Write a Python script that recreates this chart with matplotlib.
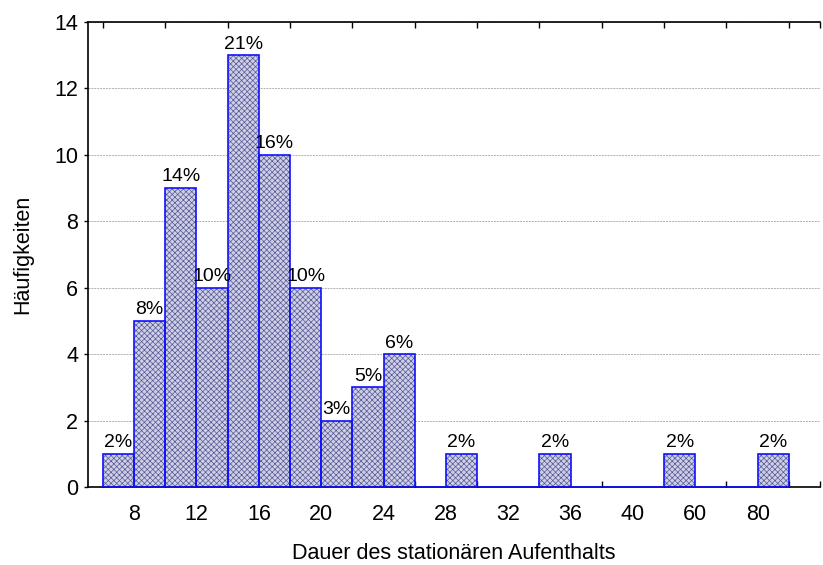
import matplotlib
matplotlib.use("Agg")
import matplotlib.pyplot as plt
import numpy as np

counts = [1, 5, 9, 6, 13, 10, 6, 2, 3, 4, 0, 1, 0, 0, 1, 0, 0, 0, 1, 0, 0, 1]
tick_labels = ["8", "12", "16", "20", "24", "28", "32", "36", "40", "60", "80"]
xlabel = "Dauer des stationären Aufenthalts"
ylabel = "Häufigkeiten"

plt.rcParams['font.family'] = ['Liberation Sans', 'DejaVu Sans']
plt.rcParams['hatch.linewidth'] = 0.5

fig = plt.figure(figsize=(8.23, 5.65), dpi=100)
ax = fig.add_axes([88/823, 1-487/565, (820-88)/823, (487-22)/565])

x = np.arange(len(counts))
total = sum(counts)
ax.set_axisbelow(True)
ax.yaxis.grid(True, linestyle=(0, (2, 1)), color='#b0b0b0', linewidth=0.7)
ax.bar(x, counts, width=1.0, facecolor='#cfd0e6', edgecolor='#545894', hatch='xxxxxx', linewidth=0, zorder=2)
ax.bar(x, counts, width=1.0, fill=False, edgecolor='#1010ff', linewidth=1.2, zorder=3)

for xi, c in zip(x, counts):
    if c > 0:
        ax.text(xi, c + 0.2, f"{round(100*c/total)}%", ha='center', va='baseline', fontsize=14, zorder=4)

ax.set_xlim(-0.98, len(counts) + 0.5)
ax.set_ylim(0, 14)
ax.set_yticks(range(0, 15, 2))
ax.set_xticks(np.arange(0.5, 0.5 + 2*len(tick_labels), 2))
ax.set_xticklabels(tick_labels)
ax.tick_params(axis='x', length=0, labelsize=15.5, pad=12)
ax.tick_params(axis='y', length=3, direction='out', labelsize=15.5, width=1, pad=4)

# minor ticks at bar boundaries, top and bottom, inward
ax.set_xticks(np.arange(-0.5, len(counts) + 0.51, 1), minor=True)
ax.tick_params(axis='x', which='minor', direction='in', length=4, top=True, bottom=True, width=1)

ax.spines['right'].set_visible(False)
for s in ['left', 'top', 'bottom']:
    ax.spines[s].set_linewidth(1.2)

ax.set_xlabel(xlabel, fontsize=15.5, labelpad=13)
ax.set_ylabel(ylabel, fontsize=15.5, labelpad=15)

fig.savefig("out.png", dpi=100)
